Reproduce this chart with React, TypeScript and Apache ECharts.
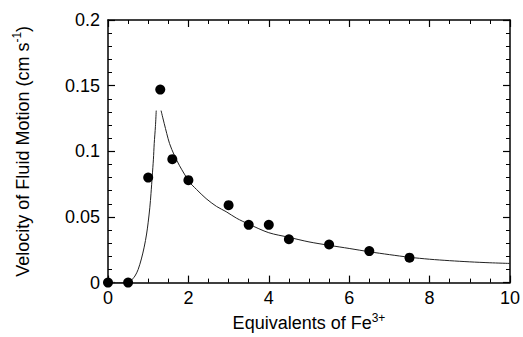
import React, { useEffect, useRef } from "react";
import * as echarts from "echarts";

// Measured points: [equivalents of Fe3+, velocity (cm/s)]
const pointsX = [0, 0.5, 1.0, 1.3, 1.6, 2.0, 3.0, 3.5, 4.0, 4.5, 5.5, 6.5, 7.5];
const pointsY = [0, 0, 0.08, 0.147, 0.094, 0.078, 0.059, 0.044, 0.044, 0.033, 0.029, 0.024, 0.019];

// Fitted curve, rising branch
const riseX = [0, 0.3, 0.45, 0.55, 0.67, 0.75, 0.83, 0.9, 0.96, 1.0, 1.04, 1.07, 1.1, 1.13, 1.15, 1.18, 1.2];
const riseY = [0, 0, 0, 0.001, 0.005, 0.01, 0.018, 0.027, 0.037, 0.046, 0.057, 0.068, 0.081, 0.094, 0.106, 0.119, 0.131];

// Fitted curve, decaying branch
const decayX = [1.32, 1.4, 1.53, 1.65, 1.78, 2.03, 2.2, 2.44, 2.7, 2.94, 3.2, 3.51, 4.0, 4.5, 5.0, 5.5, 6.0, 6.5, 7.0, 7.5, 8.0, 8.5, 9.0, 9.5, 10];
const decayY = [0.131, 0.121, 0.106, 0.097, 0.089, 0.0765, 0.071, 0.064, 0.058, 0.054, 0.049, 0.0444, 0.038, 0.0345, 0.031, 0.0284, 0.026, 0.0235, 0.0213, 0.0193, 0.0178, 0.0167, 0.0158, 0.0151, 0.0146];

const xTicks = { min: 0, max: 10, interval: 2, minorSplit: 4 };
const yTicks = { min: 0, max: 0.2, interval: 0.05, minorSplit: 5 };

const FONT = "'Liberation Sans', Arial, Helvetica, sans-serif";

export default function App() {
  const ref = useRef<HTMLDivElement>(null);
  useEffect(() => {
    if (!ref.current) return;
    const chart = echarts.init(ref.current, undefined, { renderer: "svg" });
    const axisLine = { show: true, onZero: false, lineStyle: { color: "#000", width: 1.5 } };
    const tick = { show: true, inside: true, length: 7, lineStyle: { color: "#000", width: 1.2 } };
    const minor = (n: number) => ({ show: true, splitNumber: n, length: 4, lineStyle: { color: "#000", width: 1 } });
    const label = { color: "#000", fontSize: 18, fontFamily: FONT };
    const xBase = {
      type: "value" as const,
      min: xTicks.min,
      max: xTicks.max,
      interval: xTicks.interval,
      axisLine,
      axisTick: tick,
      minorTick: minor(xTicks.minorSplit),
      splitLine: { show: false },
    };
    const yBase = {
      type: "value" as const,
      min: yTicks.min,
      max: yTicks.max,
      interval: yTicks.interval,
      axisLine,
      axisTick: tick,
      minorTick: minor(yTicks.minorSplit),
      splitLine: { show: false },
    };
    chart.setOption({
      animation: false,
      backgroundColor: "#fff",
      grid: { left: 108, right: 11, top: 20, bottom: 47, containLabel: false },
      xAxis: [
        {
          ...xBase,
          position: "bottom",
          axisLabel: { ...label, margin: 6 },
          name: "{a|Equivalents of Fe}{s|3+}",
          nameLocation: "middle",
          nameGap: 26,
          nameTextStyle: {
            rich: {
              a: { fontSize: 18, fontFamily: FONT, color: "#000" },
              s: { fontSize: 12, fontFamily: FONT, color: "#000", padding: [0, 0, 11, 0] },
            },
          },
        },
        { ...xBase, position: "top", axisLabel: { show: false } },
      ],
      yAxis: [
        {
          ...yBase,
          position: "left",
          axisLabel: { ...label, margin: 8 },
          name: "{a|Velocity of Fluid Motion (cm s}{s|-1}{a|)}",
          nameLocation: "middle",
          nameGap: 74,
          nameTextStyle: {
            rich: {
              a: { fontSize: 18, fontFamily: FONT, color: "#000" },
              s: { fontSize: 12, fontFamily: FONT, color: "#000", padding: [0, 0, 11, 0] },
            },
          },
        },
        { ...yBase, position: "right", axisLabel: { show: false } },
      ],
      series: [
        {
          type: "line",
          data: riseX.map((x, i) => [x, riseY[i]]),
          showSymbol: false,
          smooth: 0.3,
          lineStyle: { color: "#222", width: 1 },
          z: 2,
        },
        {
          type: "line",
          data: decayX.map((x, i) => [x, decayY[i]]),
          showSymbol: false,
          smooth: 0.3,
          lineStyle: { color: "#222", width: 1 },
          z: 2,
        },
        {
          type: "scatter",
          data: pointsX.map((x, i) => [x, pointsY[i]]),
          symbol: "circle",
          symbolSize: 10,
          itemStyle: { color: "#000", opacity: 1 },
          z: 3,
        },
      ],
    });
    return () => chart.dispose();
  }, []);
  return <div ref={ref} style={{ width: 523, height: 337, position: "absolute", left: 0, top: 0 }} />;
}
